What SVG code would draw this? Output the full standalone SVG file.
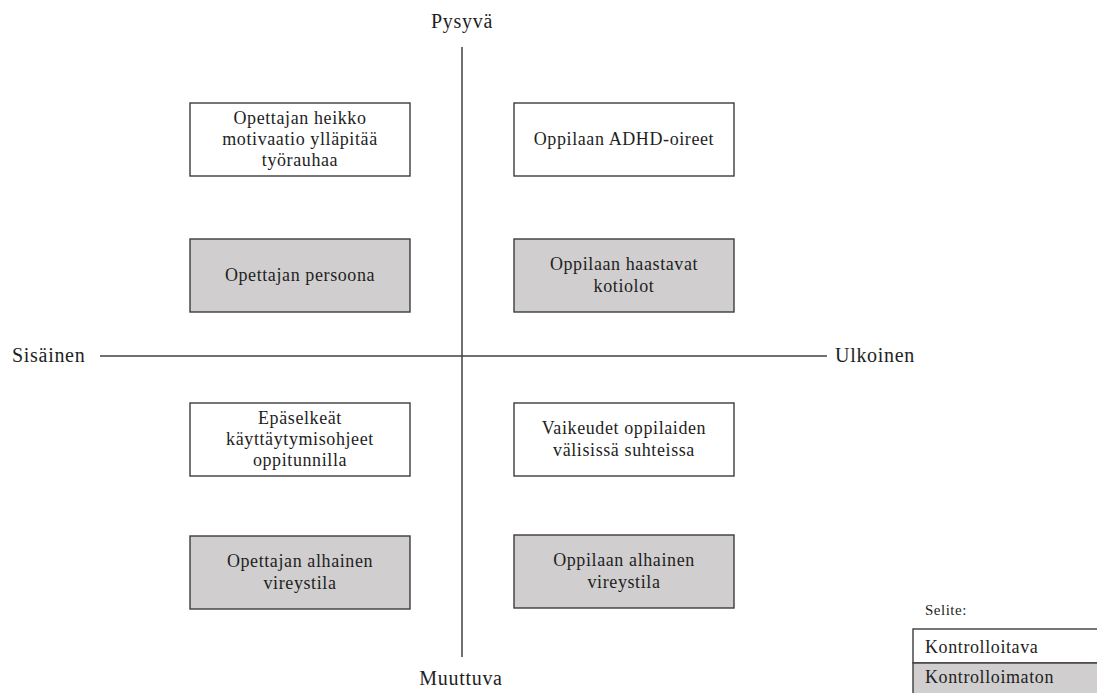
<svg xmlns="http://www.w3.org/2000/svg" width="1097" height="693" viewBox="0 0 1097 693">
<style>
  .box { stroke: #3c3c3c; stroke-width: 1.4; }
  .w { fill: #ffffff; }
  .g { fill: #d0cece; }
  .t { font-family: "Liberation Serif", "Times New Roman", serif; font-size: 18px; fill: #1e1e1e; text-anchor: middle; letter-spacing: 0.6px; }
  .ax { font-family: "Liberation Serif", "Times New Roman", serif; font-size: 20px; fill: #1e1e1e; letter-spacing: 0.7px; }
  .lg { font-family: "Liberation Serif", "Times New Roman", serif; font-size: 18px; fill: #1e1e1e; letter-spacing: 0.6px; }
  .axis { stroke: #404040; stroke-width: 1.5; fill: none; }
</style>
<rect width="1097" height="693" fill="#ffffff"/>
<g id="connectors">
  <line class="axis" x1="462" y1="47" x2="462" y2="657"/>
  <line class="axis" x1="100" y1="356" x2="827" y2="356"/>
</g>
<g id="label-pysyva"><text class="ax" x="462" y="28" text-anchor="middle">Pysyvä</text></g>
<g id="label-muuttuva"><text class="ax" x="461" y="685" text-anchor="middle">Muuttuva</text></g>
<g id="label-sisainen"><text class="ax" x="12" y="362">Sisäinen</text></g>
<g id="label-ulkoinen"><text class="ax" x="835" y="362">Ulkoinen</text></g>

<g id="n1">
  <rect class="box w" x="190" y="103" width="220" height="73"/>
  <text class="t" x="300" y="124">Opettajan heikko</text>
  <text class="t" x="300" y="145">motivaatio ylläpitää</text>
  <text class="t" x="300" y="166">työrauhaa</text>
</g>
<g id="n2">
  <rect class="box w" x="514" y="103" width="220" height="73"/>
  <text class="t" x="624" y="145">Oppilaan ADHD-oireet</text>
</g>
<g id="n3">
  <rect class="box g" x="190" y="239" width="220" height="73"/>
  <text class="t" x="300" y="281">Opettajan persoona</text>
</g>
<g id="n4">
  <rect class="box g" x="514" y="239" width="220" height="73"/>
  <text class="t" x="624" y="270">Oppilaan haastavat</text>
  <text class="t" x="624" y="292">kotiolot</text>
</g>
<g id="n5">
  <rect class="box w" x="190" y="403" width="220" height="73"/>
  <text class="t" x="300" y="424">Epäselkeät</text>
  <text class="t" x="300" y="445">käyttäytymisohjeet</text>
  <text class="t" x="300" y="466">oppitunnilla</text>
</g>
<g id="n6">
  <rect class="box w" x="514" y="403" width="220" height="73"/>
  <text class="t" x="624" y="434">Vaikeudet oppilaiden</text>
  <text class="t" x="624" y="456">välisissä suhteissa</text>
</g>
<g id="n7">
  <rect class="box g" x="190" y="536" width="220" height="73"/>
  <text class="t" x="300" y="567">Opettajan alhainen</text>
  <text class="t" x="300" y="589">vireystila</text>
</g>
<g id="n8">
  <rect class="box g" x="514" y="535" width="220" height="73"/>
  <text class="t" x="624" y="566">Oppilaan alhainen</text>
  <text class="t" x="624" y="588">vireystila</text>
</g>

<g id="legend">
  <text class="lg" x="925" y="615" style="font-size:15px;letter-spacing:0.5px">Selite:</text>
  <rect class="box w" x="913" y="629" width="200" height="34"/>
  <rect class="box g" x="913" y="663" width="200" height="40"/>
  <text class="lg" x="925" y="653">Kontrolloitava</text>
  <text class="lg" x="925" y="683">Kontrolloimaton</text>
</g>
</svg>
